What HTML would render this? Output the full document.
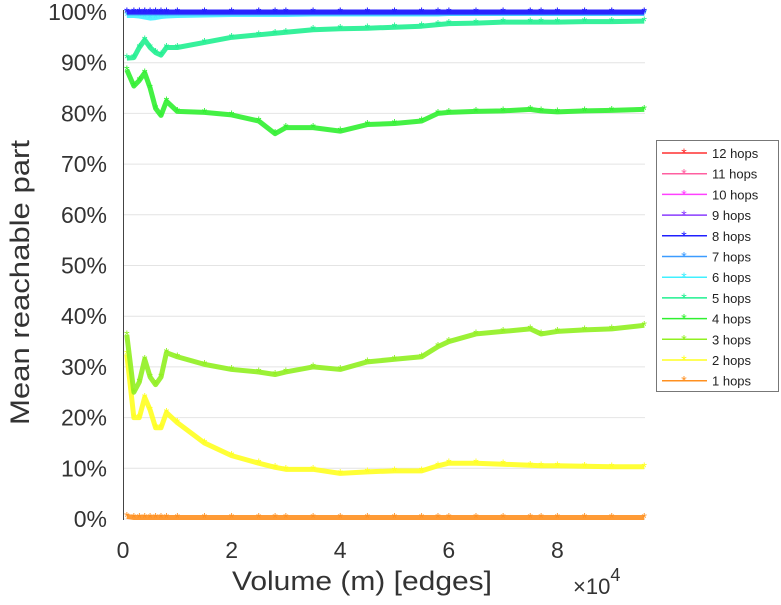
<!DOCTYPE html>
<html><head><meta charset="utf-8"><style>
body{margin:0;background:#fff;width:781px;height:600px;overflow:hidden}
svg{font-family:"Liberation Sans",sans-serif}
</style></head><body>
<svg id="c" width="781" height="600"></svg>
<script>
const xs=[0.07,0.2,0.3,0.4,0.5,0.6,0.7,0.8,1.0,1.5,2,2.5,2.8,3,3.5,4,4.5,5,5.5,5.8,6,6.5,7,7.5,7.7,8,8.5,9,9.6];
const hop1=[0.5,0.3,0.3,0.3,0.3,0.3,0.3,0.3,0.3,0.3,0.3,0.3,0.3,0.3,0.3,0.3,0.3,0.3,0.3,0.3,0.3,0.3,0.3,0.3,0.3,0.3,0.3,0.3,0.3];
const hop2=[32.5,20,20,24,21.5,18,18,21,19,15,12.5,11,10.2,9.8,9.8,9,9.3,9.5,9.5,10.5,11,11,10.8,10.6,10.5,10.5,10.4,10.3,10.3];
const hop3=[36.3,25,27,31.5,28,26.5,28,32.8,32,30.5,29.5,29,28.5,29,30,29.5,31,31.5,32,34,35,36.5,37,37.5,36.5,37,37.3,37.5,38.2];
const hop4=[88.6,85.4,86.5,88,85,81,79.6,82.4,80.4,80.2,79.7,78.5,76,77.2,77.2,76.5,77.8,78,78.5,80,80.2,80.4,80.5,80.8,80.5,80.3,80.5,80.6,80.8];
const hop5=[90.9,91,93,94.5,93,92,91.5,93,93,94,95,95.5,95.8,96,96.5,96.7,96.8,97,97.2,97.5,97.7,97.8,98,98,98,98,98.1,98.1,98.2];
const hop6=[99.3,99.3,99.2,99.0,98.8,98.9,99.1,99.2,99.3,99.4,99.5,99.5,99.5,99.5,99.6,99.6,99.6,99.6,99.6,99.6,99.7,99.7,99.7,99.7,99.7,99.7,99.7,99.7,99.7];
const hop7=xs.map(()=>99.8),hop8=xs.map(()=>100),hop9=xs.map(()=>100);
const yTicks=[0,10,20,30,40,50,60,70,80,90,100];
const xTicks=[0,2,4,6,8];
const legendLabels=["12 hops","11 hops","10 hops","9 hops","8 hops","7 hops","6 hops","5 hops","4 hops","3 hops","2 hops","1 hops"];
const legendColors=["#ff3030","#ff5fa0","#ff40ff","#8a3cff","#2020ff","#3c9cff","#40f0ff","#20f090","#30f030","#90f020","#ffff20","#ff9020"];
const X=v=>123+v*54.3, Y=p=>519-p*5.07;
const svg=document.getElementById('c');const NS='http://www.w3.org/2000/svg';
function mk(t,a,p){const e=document.createElementNS(NS,t);for(const k in a)e.setAttribute(k,a[k]);(p||svg).appendChild(e);return e;}
yTicks.forEach(t=>{
 const g=mk('line',{x1:123,x2:645,y1:Y(t),y2:Y(t),stroke:'#e4e4e4','stroke-width':1});
 
 
 const l=mk('text',{x:107,y:Y(t)+8,'text-anchor':'end','font-size':23,fill:'#333'});l.textContent=t+'%';
 
 
});
xTicks.forEach(t=>{
 const l=mk('text',{x:X(t),y:558,'text-anchor':'middle','font-size':23,fill:'#333'});l.textContent=t;
 
 
});
const ax=mk('line',{x1:123.5,x2:123.5,y1:10,y2:520,stroke:'#444','stroke-width':1});


const series=[[hop1,11],[hop2,10],[hop3,9],[hop4,8],[hop5,7],[hop6,6],[hop7,5],[hop9,3],[hop8,4]];
series.forEach(([d,ci],i)=>{
 const c=legendColors[ci];
 const pts=xs.map((x,j)=>X(x)+','+Y(d[j])).join(' ');
 const pl=mk('polyline',{points:pts,fill:'none',stroke:c,'stroke-width':5,'stroke-linejoin':'round','stroke-opacity':0.9});
 
 
 xs.forEach((x,j)=>{const m=mk('text',{x:X(x),y:Y(d[j])+5,'text-anchor':'middle','font-size':14,fill:c});m.textContent='*';
 
 });
});
const lg=mk('g',{});


mk('rect',{x:656.5,y:140.5,width:122,height:251,fill:'#fff',stroke:'#777'},lg);
legendLabels.forEach((s,i)=>{
 const y=153+i*20.7;
 const e=mk('g',{},lg);
 
 
 mk('line',{x1:662,x2:707,y1:y,y2:y,stroke:legendColors[i],'stroke-width':1.5},e);
 mk('text',{x:684,y:y+5,'text-anchor':'middle','font-size':14,fill:legendColors[i]},e).textContent='*';
 mk('text',{x:712,y:y+5,'font-size':13,fill:'#222'},e).textContent=s;
});
const xt=mk('text',{x:232,y:590,'font-size':27,fill:'#333',textLength:260,lengthAdjust:'spacingAndGlyphs'});xt.textContent='Volume (m) [edges]';


const ex=mk('text',{x:573,y:594,'font-size':22,fill:'#333'});ex.innerHTML='×10<tspan dy="-13" font-size="18">4</tspan>';


const yt=mk('text',{x:0,y:0,'font-size':27,fill:'#333',textLength:285,lengthAdjust:'spacingAndGlyphs',transform:'translate(29,425) rotate(-90)'});yt.textContent='Mean reachable part';


</script>
</body></html>
